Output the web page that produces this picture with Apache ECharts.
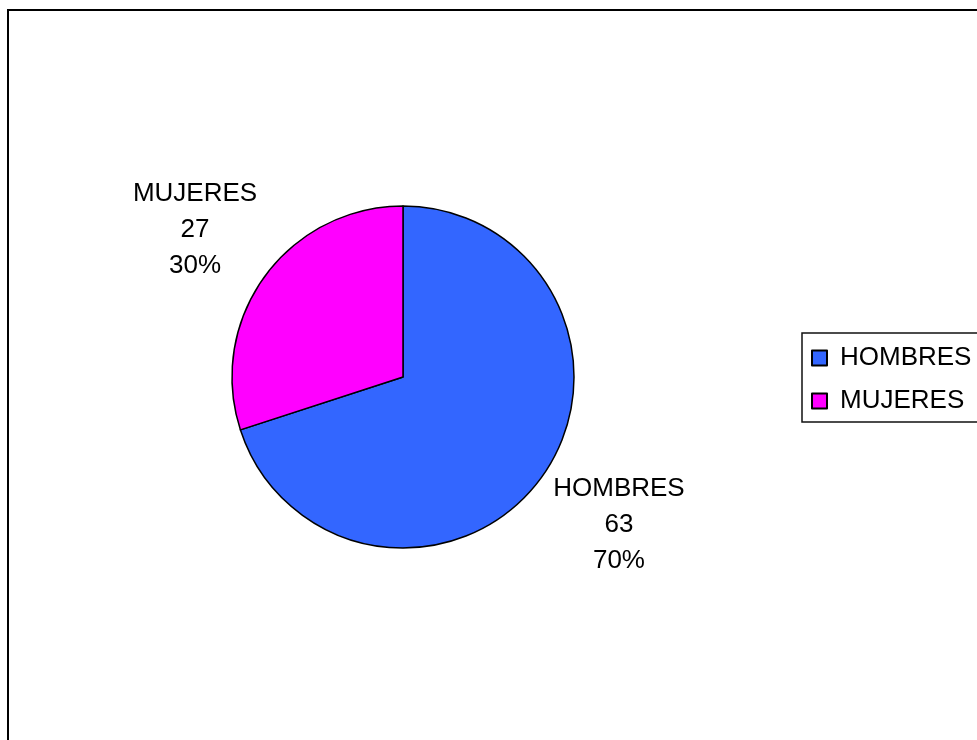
<!DOCTYPE html>
<html>
<head>
<meta charset="utf-8">
<script src="https://cdn.jsdelivr.net/npm/echarts@6/dist/echarts.min.js"></script>
<style>
html,body{margin:0;padding:0;background:#fff;}
#main{width:977px;height:740px;}
</style>
</head>
<body>
<div id="main"></div>
<script>
var categories = ['HOMBRES', 'MUJERES'];
var values = [63, 27];
var colors = ['#3366FF', '#FF00FF'];

var CENTER = [403, 377];
var RADIUS = 171;
var LABEL_RX = 262, LABEL_RY = 251, LABEL_SHIFT_X = 4;

var total = values.reduce(function (a, b) { return a + b; }, 0);
function midFraction(i) {
  var before = 0;
  for (var k = 0; k < i; k++) before += values[k];
  return (before + values[i] / 2) / total;
}

var chart = echarts.init(document.getElementById('main'));
chart.setOption({
  animation: false,
  backgroundColor: '#fff',
  textStyle: { fontFamily: 'Liberation Sans, Arial, sans-serif' },
  graphic: [{
    type: 'rect', z: -10, silent: true,
    shape: { x: 8, y: 10, width: 1200, height: 1000 },
    style: { fill: 'none', stroke: '#000', lineWidth: 2 }
  }],
  legend: {
    orient: 'vertical',
    left: 802, top: 333,
    padding: [12, 80, 8, 9],
    itemGap: 17,
    itemWidth: 15, itemHeight: 15,
    icon: 'rect',
    borderColor: '#111', borderWidth: 1.5,
    textStyle: { fontSize: 26, color: '#000', fontFamily: 'Liberation Sans, Arial, sans-serif', padding: [0, 0, 0, 8] },
    data: categories
  },
  series: [{
    type: 'pie',
    center: CENTER,
    radius: RADIUS,
    startAngle: 90,
    clockwise: true,
    avoidLabelOverlap: false,
    itemStyle: { borderColor: '#000', borderWidth: 1.5 },
    label: {
      show: true,
      position: 'outside',
      fontSize: 26,
      lineHeight: 36,
      color: '#000',
      fontFamily: 'Liberation Sans, Arial, sans-serif',
      formatter: function (p) { return p.name + '\n' + p.value + '\n' + Math.round(p.percent) + '%'; }
    },
    labelLine: { show: false },
    labelLayout: function (p) {
      var a = midFraction(p.dataIndex) * 2 * Math.PI;
      return {
        x: CENTER[0] + LABEL_SHIFT_X + LABEL_RX * Math.sin(a),
        y: CENTER[1] - LABEL_RY * Math.cos(a),
        align: 'center',
        verticalAlign: 'middle'
      };
    },
    emphasis: { disabled: true },
    data: categories.map(function (c, i) {
      return { name: c, value: values[i], itemStyle: { color: colors[i] } };
    })
  }]
});
</script>
</body>
</html>
